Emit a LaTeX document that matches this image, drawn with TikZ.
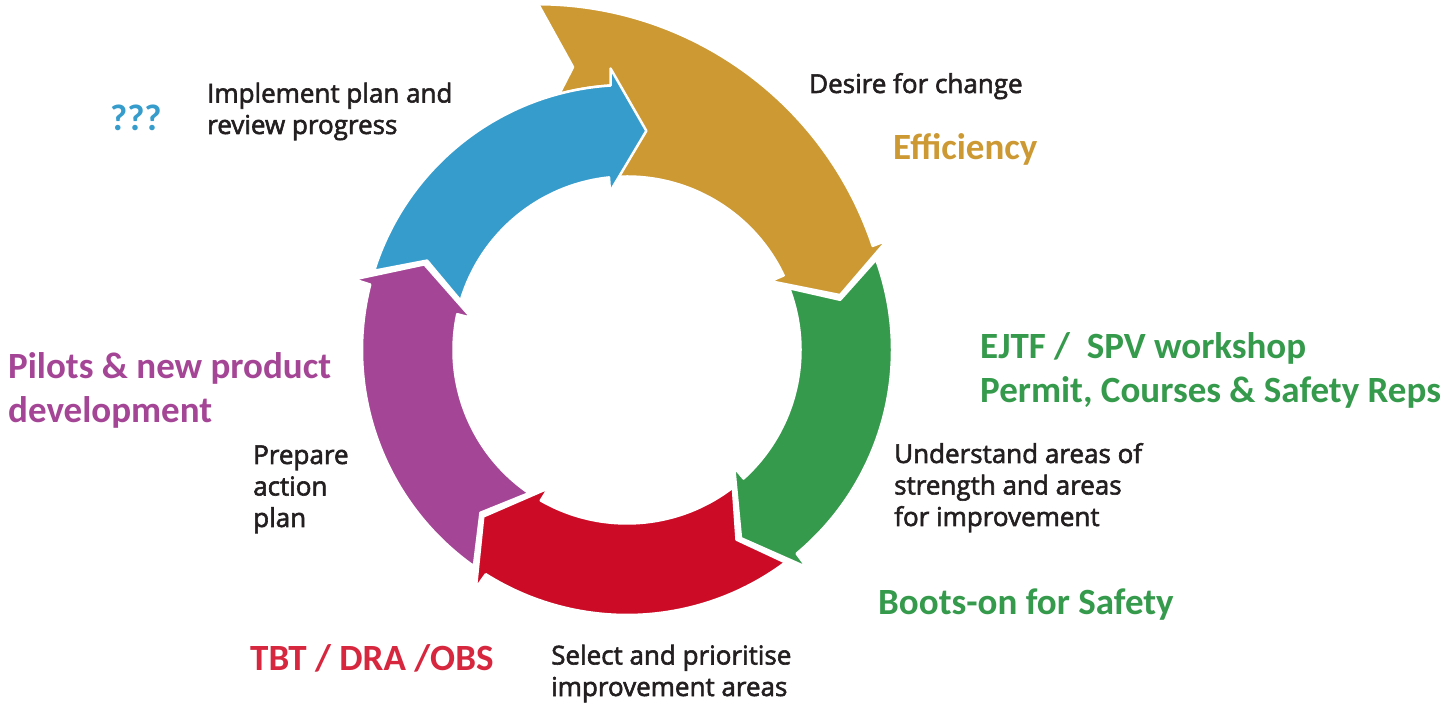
\documentclass[tikz,border=0pt]{standalone}
\usepackage{fontspec}
\setmainfont{Open Sans}
\newfontfamily\capfont{Open Sans}[FakeBold=2.2]
\newfontfamily\tagfont{Carlito}
\usepackage{tikz}

\definecolor{arrowgold}{HTML}{CC9933}
\definecolor{arrowgreen}{HTML}{359A4B}
\definecolor{arrowred}{HTML}{CC0C27}
\definecolor{arrowpurple}{HTML}{A54595}
\definecolor{arrowblue}{HTML}{359CCC}
\definecolor{textred}{HTML}{D6273F}
\definecolor{captiontext}{HTML}{231F20}

\begin{document}
\begin{tikzpicture}[x=1pt, y=1pt,
    ringarrow/.style={draw=white, line width=2.5pt, line join=round},
    caption/.style={anchor=base west, align=left, inner sep=0pt, text=captiontext,
        font=\capfont\fontsize{26}{31.5}\selectfont},
    remark/.style={anchor=base west, align=left, inner sep=0pt,
        font=\tagfont\bfseries\fontsize{37}{44.5}\selectfont}]
    \fill[white] (0,0) rectangle (1445,704);
    \useasboundingbox (0,0) rectangle (1445,704);

    \begin{scope}[shift={(627,354)}]
    % Desire for change (wide tail, drawn under the blue head)
    \path[ringarrow, fill=arrowgold] (104.4:357pt)
        arc[start angle=89.8, end angle=18.5, radius=354pt]
        -- (22.85:282pt) -- (14.45:220pt) -- (25.65:159pt) -- (25.45:173.5pt)
        arc[start angle=25.45, end angle=93, radius=173.5pt] -- (93:265pt)
        arc[start angle=93, end angle=104.8, radius=265pt] -- (100.8:288pt) -- cycle;

    % Understand areas
    \path[ringarrow, fill=arrowgreen] (19.95:265pt)
        arc[start angle=19.95, end angle=-50.2, radius=265pt]
        -- (-50.4:282pt) -- (-58.8:220pt) -- (-47.6:159pt) -- (-47.8:173.5pt)
        arc[start angle=-47.8, end angle=20.85, radius=173.5pt] -- (13.25:219pt) -- cycle;

    % Select and prioritise
    \path[ringarrow, fill=arrowred] (-53.3:265pt)
        arc[start angle=-53.3, end angle=-122.2, radius=265pt]
        -- (-122.4:282pt) -- (-130.8:220pt) -- (-119.6:159pt) -- (-119.8:173.5pt)
        arc[start angle=-119.8, end angle=-52.4, radius=173.5pt] -- (-60:219pt) -- cycle;

    % Prepare action plan
    \path[ringarrow, fill=arrowpurple] (-125.3:265pt)
        arc[start angle=-125.3, end angle=-194.3, radius=265pt]
        -- (-194.5:282pt) -- (-202.9:220pt) -- (-191.7:159pt) -- (-191.9:173.5pt)
        arc[start angle=-191.9, end angle=-124.4, radius=173.5pt] -- (-132:219pt) -- cycle;

    % Implement plan
    \path[ringarrow, fill=arrowblue] (-197.4:265pt)
        arc[start angle=-197.4, end angle=-266.45, radius=265pt]
        -- (-266.65:282pt) -- (-275.05:220pt) -- (-263.85:159pt) -- (-264.05:173.5pt)
        arc[start angle=-264.05, end angle=-196.5, radius=173.5pt] -- (-204.1:219pt) -- cycle;
    \end{scope}

    % Step captions (base = last line)
    \node[caption] (implement) at (207,570) {Implement plan and\\review progress};
    \node[caption] (desire) at (809,611) {Desire for change};
    \node[caption] (understand) at (894,178) {Understand areas of\\strength and areas\\for improvement};
    \node[caption] (select) at (551,8) {Select and prioritise\\improvement areas};
    \node[caption] (prepare) at (253,177) {Prepare\\action\\plan};

    % Coloured remarks
    \node[remark, text=arrowblue] (qmark) at (110,573) {???};
    \node[remark, text=arrowgold] (efficiency) at (893,544) {Efficiency};
    \node[remark, text=arrowgreen] (ejtf) at (980,301) {EJTF / \ SPV workshop\\Permit, Courses \& Safety Reps};
    \node[remark, text=arrowgreen] (boots) at (878,89) {Boots-on for Safety};
    \node[remark, text=textred] (tbt) at (250,34) {TBT / DRA /OBS};
    \node[remark, text=arrowpurple] (pilots) at (8,281) {Pilots \& new product\\development};
\end{tikzpicture}
\end{document}
